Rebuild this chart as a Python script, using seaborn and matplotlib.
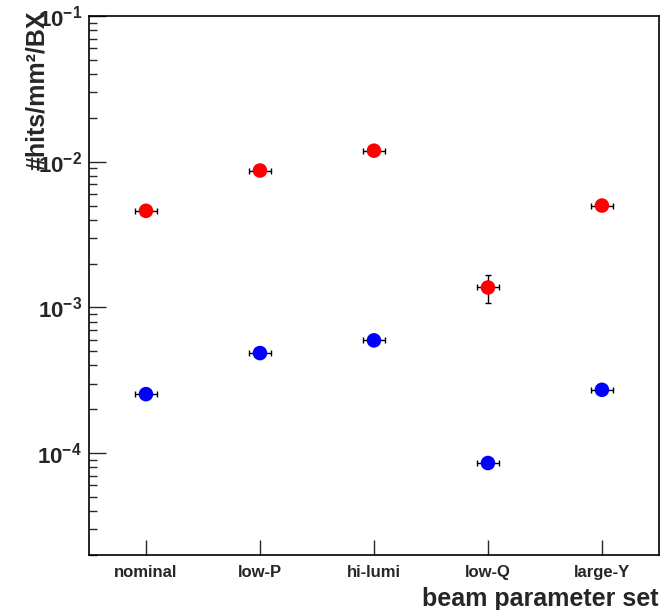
import numpy as np
import pandas as pd
import matplotlib
matplotlib.use("Agg")
import matplotlib.pyplot as plt
import seaborn as sns
from matplotlib.ticker import LogLocator, NullFormatter, LogFormatterSciNotation

# --- data ---
param_sets = ["nominal", "low-P", "hi-lumi", "low-Q", "large-Y"]
red_rate = [4.6e-3, 8.7e-3, 1.19e-2, 1.37e-3, 5.0e-3]
red_err = [0.0, 0.0, 0.0, 0.3e-3, 0.0]
blue_rate = [2.54e-4, 4.86e-4, 5.94e-4, 8.55e-5, 2.72e-4]
blue_err = [0.0, 0.0, 0.0, 0.0, 0.0]
x_halfwidth = 0.1

sns.set_style("ticks")
plt.rcParams["font.family"] = ["Liberation Sans", "DejaVu Sans"]
plt.rcParams["font.weight"] = "bold"
plt.rcParams["mathtext.fontset"] = "custom"
plt.rcParams["mathtext.rm"] = "Liberation Sans:bold"
plt.rcParams["mathtext.it"] = "Liberation Sans:bold"
plt.rcParams["mathtext.bf"] = "Liberation Sans:bold"
plt.rcParams["mathtext.default"] = "rm"

pos = np.arange(len(param_sets))
df = pd.DataFrame({
    "pos": np.concatenate([pos, pos]),
    "rate": red_rate + blue_rate,
    "err": red_err + blue_err,
    "series": ["red"] * len(pos) + ["blue"] * len(pos),
})

fig = plt.figure(figsize=(6.71, 6.10), dpi=100)
ax = fig.add_axes([0.1326, 0.0902, 0.8494, 0.8836])

# error bars under the markers
ax.errorbar(df["pos"], df["rate"], xerr=x_halfwidth, yerr=df["err"],
            fmt="none", ecolor="black", elinewidth=1.0, capsize=2.5,
            capthick=1.0, zorder=2)
sns.scatterplot(data=df, x="pos", y="rate", hue="series",
                palette={"red": "#ff0000", "blue": "#0000ff"},
                s=110, linewidth=0, legend=False, zorder=3, ax=ax)

ax.set_yscale("log")
ax.set_ylim(2e-5, 1e-1)
ax.set_xlim(-0.5, len(param_sets) - 0.5)
ax.set_xticks(pos)
ax.set_xticklabels(param_sets)
ax.yaxis.set_major_locator(LogLocator(base=10))
ax.yaxis.set_major_formatter(LogFormatterSciNotation(base=10))
ax.yaxis.set_minor_locator(LogLocator(base=10, subs=np.arange(2, 10)))
ax.yaxis.set_minor_formatter(NullFormatter())

ax.tick_params(axis="y", which="major", direction="in", length=12, width=1,
               labelsize=16, pad=5, right=False)
ax.tick_params(axis="y", which="minor", direction="in", length=6, width=1,
               right=False)
ax.tick_params(axis="x", which="major", direction="in", length=11, width=1,
               labelsize=12, pad=7, top=False)
ax.tick_params(axis="x", which="minor", bottom=False, top=False)

for sp in ax.spines.values():
    sp.set_visible(True)
    sp.set_color("black")
    sp.set_linewidth(1.2)

ax.set_xlabel("beam parameter set", fontsize=18, fontweight="bold", loc="right")
ax.xaxis.set_label_coords(1.0, -0.06)
ax.set_ylabel("#hits/mm²/BX", fontsize=18, fontweight="bold", loc="top")
ax.yaxis.set_label_coords(-0.07, 1.011)

fig.savefig("out.png", dpi=100)
